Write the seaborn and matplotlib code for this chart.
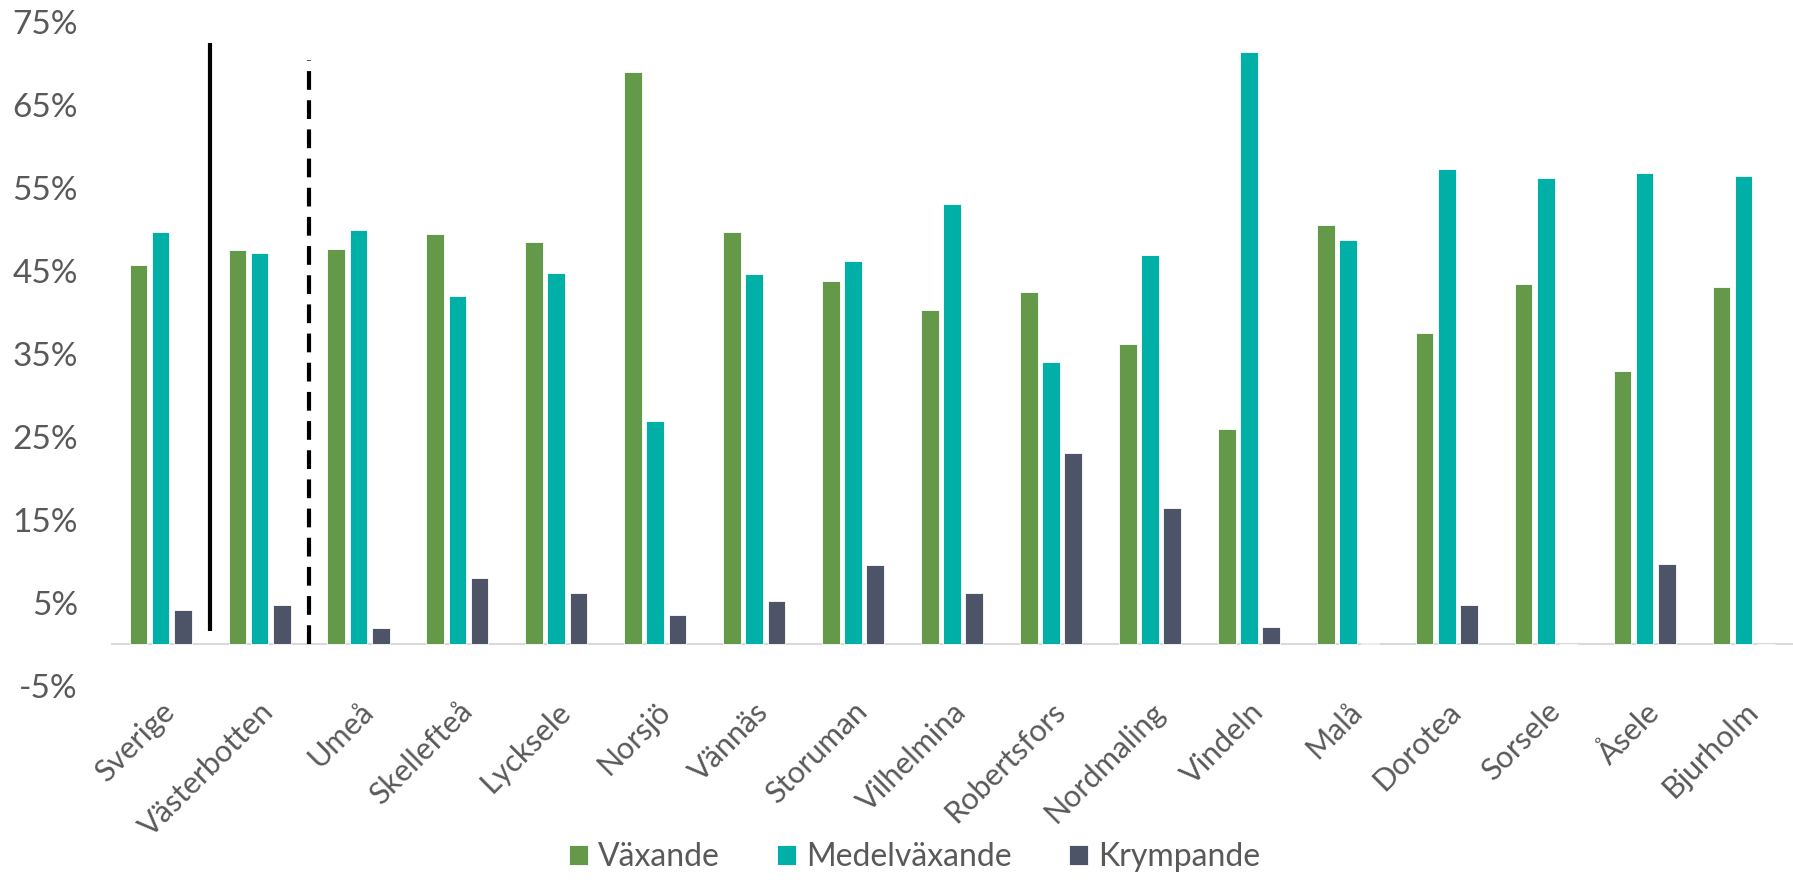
import pandas as pd
import seaborn as sns
import matplotlib.pyplot as plt
from matplotlib.ticker import FuncFormatter

# data (percent)
kommuner = ["Sverige", "Västerbotten", "Umeå", "Skellefteå", "Lycksele", "Norsjö",
            "Vännäs", "Storuman", "Vilhelmina", "Robertsfors", "Nordmaling",
            "Vindeln", "Malå", "Dorotea", "Sorsele", "Åsele", "Bjurholm"]
vaxande = [45.7, 47.6, 47.7, 49.5, 48.5, 69.0, 49.7, 43.8, 40.3, 42.5, 36.2,
           26.0, 50.6, 37.5, 43.4, 33.0, 43.1]
medelvaxande = [49.7, 47.2, 49.9, 42.0, 44.8, 26.9, 44.7, 46.2, 53.1, 34.0, 46.9,
                71.4, 48.8, 57.3, 56.2, 56.8, 56.5]
krympande = [4.2, 4.7, 2.0, 8.0, 6.2, 3.6, 5.2, 9.6, 6.2, 23.1, 16.4,
             2.1, 0.2, 4.7, 0.0, 9.7, 0.0]
serier = ["Växande", "Medelväxande", "Krympande"]
farger = ["#64994A", "#00B0A6", "#4E5468"]
yticks = [-5, 5, 15, 25, 35, 45, 55, 65, 75]

# separator lines: (x position, y from, y to)
solid_sep = (0.5, 1.6, 72.5)
dashed_sep = (1.5, 0.0, 70.5)

df = pd.DataFrame({
    "kommun": kommuner * 3,
    "serie": [serier[0]] * len(kommuner) + [serier[1]] * len(kommuner) + [serier[2]] * len(kommuner),
    "andel": vaxande + medelvaxande + krympande,
})

sns.set_style("white")
plt.rcParams["font.family"] = ["Lato", "DejaVu Sans"]

fig = plt.figure(figsize=(17.93, 8.88), dpi=100)
ax = fig.add_axes([0.062, 0.2275, 0.938, 0.7475])

sns.barplot(data=df, x="kommun", y="andel", hue="serie", palette=farger,
            saturation=1, width=0.672, gap=0.2, edgecolor="white", linewidth=0.6,
            legend=True, ax=ax)

ax.plot([solid_sep[0]] * 2, solid_sep[1:], color="black", lw=3, solid_capstyle="butt")
ax.plot([dashed_sep[0]] * 2, dashed_sep[1:], color="black", lw=3, ls=(0, (4.5, 2.5)))

ax.axhline(0, color="#d9d9d9", lw=1.5, zorder=0)
ax.set_ylim(-5, 75)
ax.set_xlim(-0.5, 16.5)
ax.set_yticks(yticks)
ax.yaxis.set_major_formatter(FuncFormatter(lambda v, p: f"{v:.0f}%"))
ax.tick_params(axis="y", labelsize=24, labelcolor="#595959", length=0, pad=24)
ax.tick_params(axis="x", labelsize=22, labelcolor="#595959", length=0, pad=8)
plt.setp(ax.get_xticklabels(), rotation=45, ha="right", rotation_mode="anchor")
ax.set_xlabel("")
ax.set_ylabel("")
for s in ax.spines.values():
    s.set_visible(False)

handles, labels = ax.get_legend_handles_labels()
ax.get_legend().remove()
fig.legend(handles, labels, loc="center", bbox_to_anchor=(0.51, 0.035), ncol=3,
           frameon=False, fontsize=23, handlelength=0.6, handleheight=0.6,
           handletextpad=0.3, columnspacing=1.8, labelcolor="#595959")

fig.savefig("out.png", dpi=100)
